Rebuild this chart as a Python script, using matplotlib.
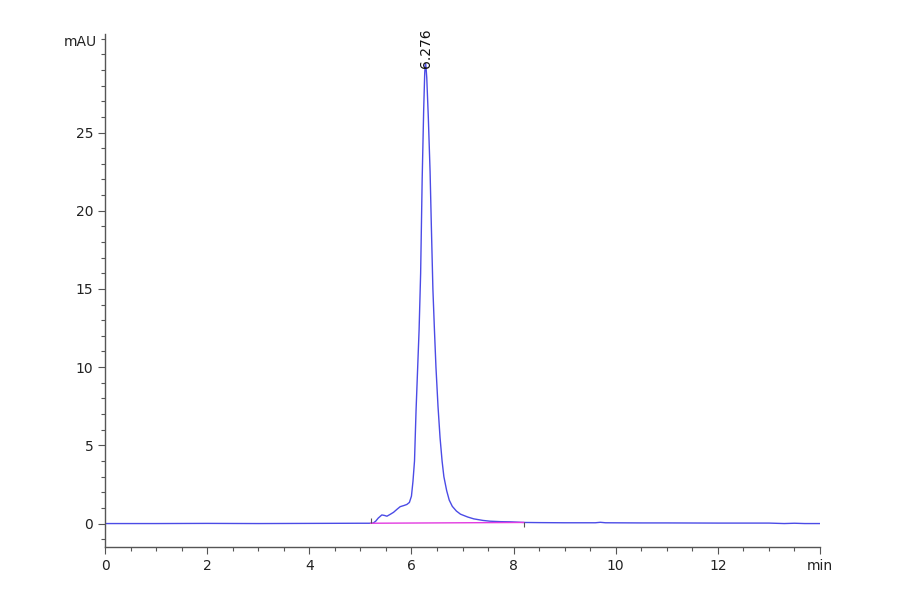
import matplotlib
matplotlib.use("Agg")
import matplotlib.pyplot as plt
from matplotlib.ticker import MultipleLocator

# retention time (min) and absorbance (mAU)
time_min = [0.0, 1.0, 2.0, 3.0, 4.0, 5.0, 5.20, 5.25, 5.30, 5.35, 5.42, 5.47, 5.52,
            5.58, 5.65, 5.72, 5.78, 5.85, 5.91, 5.96, 6.00, 6.03, 6.06, 6.09,
            6.12, 6.15, 6.18, 6.21, 6.24, 6.26, 6.27, 6.276, 6.285, 6.30, 6.33,
            6.365, 6.39, 6.42, 6.45, 6.48, 6.52, 6.56, 6.60, 6.635, 6.69, 6.74,
            6.80, 6.88, 6.96, 7.10, 7.22, 7.40, 7.54, 7.75, 7.94, 8.20, 8.50,
            9.00, 9.60, 9.70, 9.80, 10.5, 11.0, 12.0, 13.0, 13.3, 13.5, 13.7, 14.0]
signal_mau = [0.0, 0.0, 0.01, 0.0, 0.01, 0.02, 0.02, 0.03, 0.15, 0.35, 0.55, 0.52, 0.47,
              0.58, 0.72, 0.92, 1.08, 1.15, 1.22, 1.35, 1.75, 2.7, 4.0, 7.2,
              9.8, 12.4, 16.0, 22.0, 26.5, 28.8, 29.3, 29.4, 29.2, 28.5, 26.0,
              22.5, 19.0, 15.0, 12.4, 10.0, 7.5, 5.5, 4.0, 3.0, 2.1, 1.5,
              1.1, 0.8, 0.6, 0.42, 0.30, 0.20, 0.15, 0.12, 0.11, 0.07, 0.06,
              0.05, 0.05, 0.08, 0.05, 0.04, 0.04, 0.03, 0.03, 0.0, 0.02, 0.0, 0.0]

peak_rt = 6.276
peak_height = 29.4
base_start = (5.20, 0.02)
base_end = (8.20, 0.07)

x_ticks = [0, 2, 4, 6, 8, 10, 12, 14]
x_labels = ["0", "2", "4", "6", "8", "10", "12", "min"]
y_ticks = [0, 5, 10, 15, 20, 25]

fig = plt.figure(figsize=(9, 5.94), dpi=100)
ax = fig.add_axes([0.1167, 0.0791, 0.7944, 0.8637])

ax.plot(time_min, signal_mau, color="#4b4be6", lw=1.0)
ax.plot([base_start[0], base_end[0]], [base_start[1], base_end[1]],
        color="#e23be0", lw=1.0)
ax.vlines(base_start[0], base_start[1], base_start[1] + 0.35, color="#555555", lw=0.8)
ax.vlines(base_end[0], base_end[1] - 0.3, base_end[1], color="#555555", lw=0.8)

ax.text(peak_rt, peak_height - 0.3, "6.276", rotation=90, ha="center", va="bottom",
        fontsize=10, color="#111111")

ax.set_xlim(0, 14)
ax.set_ylim(-1.5, 31.3)
ax.set_xticks(x_ticks)
ax.set_xticklabels(x_labels)
ax.set_yticks(y_ticks)
ax.xaxis.set_minor_locator(MultipleLocator(0.5))
ax.yaxis.set_minor_locator(MultipleLocator(1))

for s in ["top", "right"]:
    ax.spines[s].set_visible(False)
for s in ["left", "bottom"]:
    ax.spines[s].set_color("#555555")
    ax.spines[s].set_linewidth(1.0)

ax.tick_params(which="major", direction="out", length=5, width=0.8, color="#555555",
               labelsize=10, labelcolor="#222222")
ax.tick_params(which="minor", direction="out", length=3, width=0.8, color="#555555")

ax.text(-0.012, 0.984, "mAU", transform=ax.transAxes, ha="right", va="center",
        fontsize=10, color="#222222")

fig.savefig("out.png", dpi=100)
